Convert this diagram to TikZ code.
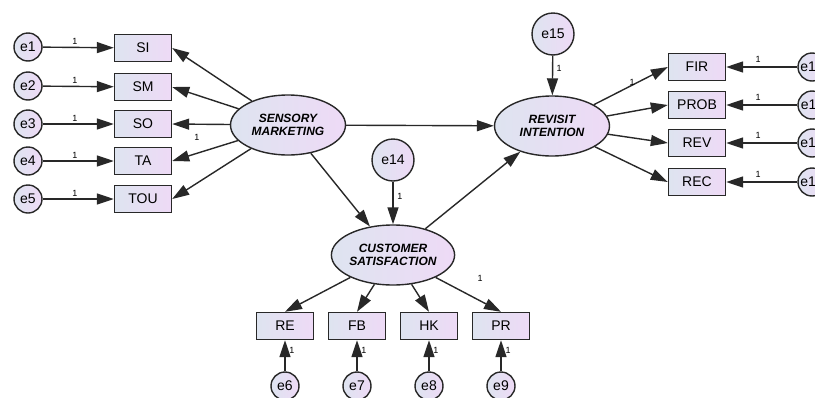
\documentclass[tikz,border=0pt]{standalone}
\usepackage{fontspec}
\setmainfont{Liberation Sans}
\usetikzlibrary{shapes.geometric,arrows.meta}
\definecolor{lc}{RGB}{222,228,240}
\definecolor{rc}{RGB}{238,218,246}
\definecolor{bd}{RGB}{40,40,40}
\tikzset{
  base/.style={draw=bd,line width=1.4pt,left color=lc,right color=rc,inner sep=0pt},
  obs/.style={base,rectangle,minimum width=57pt,minimum height=27pt,font=\fontsize{14}{14}\selectfont},
  lat/.style={base,ellipse,minimum width=115pt,minimum height=60pt,align=center,font=\fontsize{12}{13}\selectfont\bfseries\itshape},
  err/.style={base,circle,minimum size=28pt,font=\fontsize{14}{14}\selectfont},
  bigerr/.style={base,circle,minimum size=42pt,font=\fontsize{14}{14}\selectfont},
  link/.style={line width=1.4pt,draw=bd,-{Triangle[length=17pt,width=11pt]}},
  one/.style={font=\fontsize{9}{9}\selectfont,inner sep=0pt},
}
\begin{document}
\begin{tikzpicture}[x=1pt,y=-1pt]
\useasboundingbox (0,0) rectangle (815,397);
\clip (0,0) rectangle (815,397);
\fill[white] (0,0) rectangle (815,397);
% left indicators
\node[obs] (si) at (143,48) {SI};
\node[obs] (sm) at (143,87) {SM};
\node[obs] (so) at (143,124) {SO};
\node[obs] (ta) at (143,161) {TA};
\node[obs] (tou) at (143,199) {TOU};
\node[err] (e1) at (28,47) {e1};
\node[err] (e2) at (28,86) {e2};
\node[err] (e3) at (28,124) {e3};
\node[err] (e4) at (28,161) {e4};
\node[err] (e5) at (28,199) {e5};
% latents
\node[lat] (smk) at (288,125) {SENSORY\\MARKETING};
\node[lat] (ri) at (552,126) {REVISIT\\INTENTION};
\node[lat] (cs) at (393,255) {CUSTOMER\\SATISFACTION};
\node[bigerr] (e15) at (553,34) {e15};
\node[bigerr] (e14) at (393,160) {e14};
% right indicators
\node[obs] (fir) at (697,67) {FIR};
\node[obs] (prob) at (697,105) {PROB};
\node[obs] (rev) at (697,143) {REV};
\node[obs] (rec) at (697,182) {REC};
\node[err] (e10) at (812,67) {e10};
\node[err] (e11) at (812,105) {e11};
\node[err] (e12) at (812,143) {e12};
\node[err] (e13) at (812,182) {e13};
% bottom indicators
\node[obs] (re) at (285,326) {RE};
\node[obs] (fb) at (357,326) {FB};
\node[obs] (hk) at (429,326) {HK};
\node[obs] (pr) at (501,326) {PR};
\node[err] (e6) at (285,386) {e6};
\node[err] (e7) at (357,386) {e7};
\node[err] (e8) at (429,386) {e8};
\node[err] (e9) at (501,386) {e9};
% connectors
\foreach \e/\b in {e1/si,e2/sm,e3/so,e4/ta,e5/tou} \draw[link] (\e) -- (\b);
\draw[link] (smk) -- (si.east);
\draw[link] (smk) -- (sm.east);
\draw[link] (smk) -- (so.east);
\draw[link] (smk) -- (ta.east);
\draw[link] (smk) -- (tou.east);
\draw[link] (smk) -- (ri);
\draw[link] (smk) -- (cs);
\draw[link] (cs) -- (ri);
\draw[link] (e15) -- (ri);
\draw[link] (e14) -- (cs);
\foreach \b in {fir,prob,rev,rec} \draw[link] (ri) -- (\b.west);
\foreach \e/\b in {e10/fir,e11/prob,e12/rev,e13/rec} \draw[link] (\e) -- (\b);
\foreach \b in {re,fb,hk,pr} \draw[link] (cs) -- (\b.north);
\foreach \e/\b in {e6/re,e7/fb,e8/hk,e9/pr} \draw[link] (\e) -- (\b);
% labels
\foreach \y [count=\i] in {41,80,118,155,193} \node[one] (l\i) at (75,\y) {1};
\node[one] (lta) at (197,137) {1};
\node[one] (l15) at (559,68) {1};
\node[one] (l14) at (400,196) {1};
\node[one] (lfir) at (632,82) {1};
\foreach \y [count=\i] in {59,97,135,174} \node[one] (r\i) at (758,\y) {1};
\node[one] (lpr) at (480,278) {1};
\foreach \x [count=\i] in {292,364,436,508} \node[one] (b\i) at (\x,350) {1};
\end{tikzpicture}
\end{document}
